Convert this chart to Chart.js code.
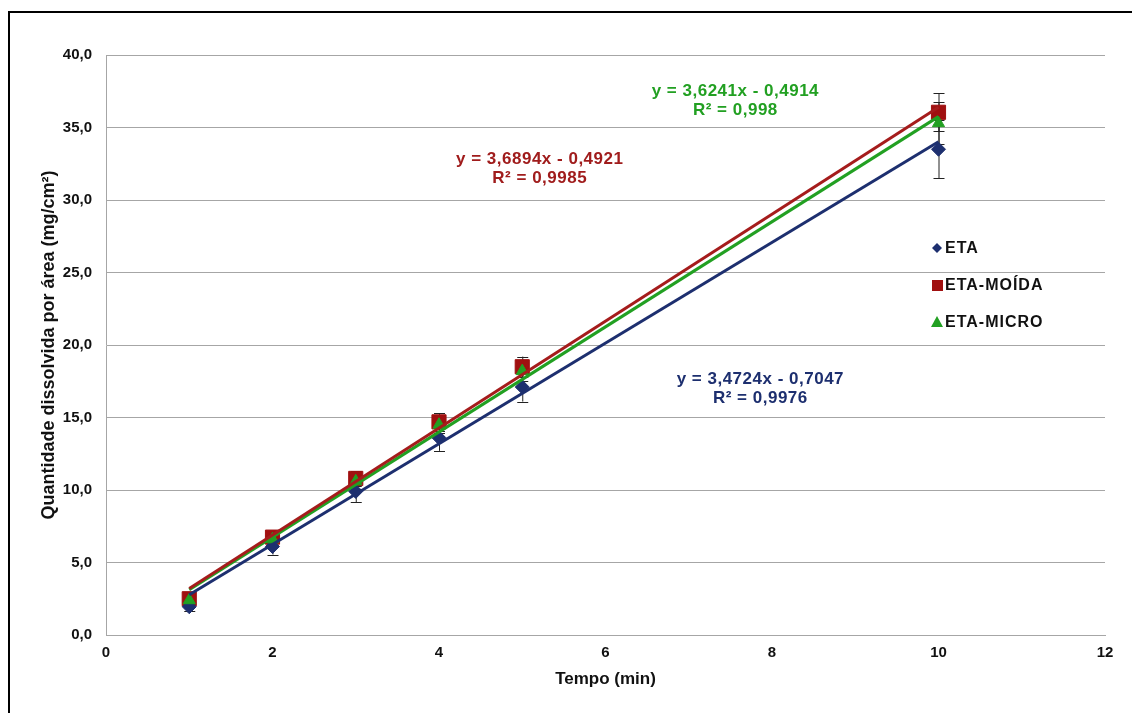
<!DOCTYPE html>
<html>
<head>
<meta charset="utf-8">
<script src="https://cdn.jsdelivr.net/npm/chart.js@4.4.0/dist/chart.umd.min.js"></script>
<style>
  body { margin: 0; background: #fff; }
  #wrap { width: 1132px; height: 713px; position: relative; }
</style>
</head>
<body>
<div id="wrap"><canvas id="grafico" width="1132" height="713"></canvas></div>
<script>
// Dados
const tempo = [1, 2, 3, 4, 5, 10];
const eta = [1.95, 6.1, 9.9, 13.6, 17.1, 33.5];
const etaErro = [0.3, 0.55, 0.75, 0.9, 1.0, 2.0];
const etaMoida = [2.5, 6.75, 10.8, 14.7, 18.5, 36.05];
const etaMoidaErro = [0.3, 0.4, 0.5, 0.6, 0.7, 1.3];
const etaMicro = [2.4, 6.6, 10.6, 14.5, 18.2, 35.3];
const etaMicroErro = [0.3, 0.4, 0.5, 0.6, 0.7, 1.45];

// Linhas de tendência (extremos em x = 1 e x = 10)
const tendX = [1, 10];
const tendEta = [2.77, 34.02];
const tendMoida = [3.2, 36.4];
const tendMicro = [3.13, 35.75];

const xTicks = [0, 2, 4, 6, 8, 10, 12];
const yTicks = ['0,0', '5,0', '10,0', '15,0', '20,0', '25,0', '30,0', '35,0', '40,0'];

const equacoes = [
  { linhas: ['y = 3,6241x - 0,4914', 'R² = 0,998'], x: 7.56, y: 37.5, cor: '#22a022' },
  { linhas: ['y = 3,6894x - 0,4921', 'R² = 0,9985'], x: 5.21, y: 32.8, cor: '#a01c1c' },
  { linhas: ['y = 3,4724x - 0,7047', 'R² = 0,9976'], x: 7.86, y: 17.6, cor: '#1d2f6f' }
];

const AZUL = '#1d2f6f';
const VERMELHO = '#a01010';
const VERDE = '#22a022';

const pts = (xs, ys) => xs.map((x, i) => ({ x: x, y: ys[i] }));

// barras de erro
const barrasErro = {
  id: 'barrasErro',
  beforeDatasetsDraw(chart) {
    const ctx = chart.ctx;
    const x = chart.scales.x, y = chart.scales.y;
    const erros = [etaErro, etaMoidaErro, etaMicroErro];
    const series = [eta, etaMoida, etaMicro];
    ctx.save();
    ctx.strokeStyle = '#222';
    ctx.lineWidth = 1;
    series.forEach((s, k) => {
      s.forEach((v, i) => {
        const px = x.getPixelForValue(tempo[i]);
        const y1 = y.getPixelForValue(v - erros[k][i]);
        const y2 = y.getPixelForValue(v + erros[k][i]);
        ctx.beginPath();
        ctx.moveTo(px + 0.5, y1);
        ctx.lineTo(px + 0.5, y2);
        ctx.moveTo(px - 5, Math.round(y1) + 0.5);
        ctx.lineTo(px + 6, Math.round(y1) + 0.5);
        ctx.moveTo(px - 5, Math.round(y2) + 0.5);
        ctx.lineTo(px + 6, Math.round(y2) + 0.5);
        ctx.stroke();
      });
    });
    ctx.restore();
  }
};

// equações, legenda e moldura
const extras = {
  id: 'extras',
  afterDraw(chart) {
    const ctx = chart.ctx;
    const x = chart.scales.x, y = chart.scales.y;
    ctx.save();
    ctx.font = 'bold 17px "Liberation Sans", Arial, sans-serif';
    ctx.letterSpacing = '0.5px';
    ctx.textAlign = 'center';
    ctx.textBaseline = 'middle';
    equacoes.forEach(eq => {
      ctx.fillStyle = eq.cor;
      const px = x.getPixelForValue(eq.x);
      const py = y.getPixelForValue(eq.y);
      eq.linhas.forEach((l, i) => ctx.fillText(l, px, py + i * 19));
    });

    // legenda
    const itens = chart.data.datasets.filter(d => !d.tendencia);
    ctx.textAlign = 'left';
    ctx.font = 'bold 16px "Liberation Sans", Arial, sans-serif';
    ctx.letterSpacing = '1px';
    itens.forEach((d, i) => {
      const ly = 248 + i * 37;
      const lx = 937;
      ctx.fillStyle = d.backgroundColor;
      ctx.beginPath();
      if (d.pointStyle === 'rectRot') {
        ctx.moveTo(lx, ly - 5); ctx.lineTo(lx + 5, ly); ctx.lineTo(lx, ly + 5); ctx.lineTo(lx - 5, ly);
      } else if (d.pointStyle === 'rect') {
        ctx.rect(lx - 5, ly - 5, 11, 11);
      } else {
        ctx.moveTo(lx, ly - 6); ctx.lineTo(lx + 6, ly + 5); ctx.lineTo(lx - 6, ly + 5);
      }
      ctx.closePath();
      ctx.fill();
      ctx.fillStyle = '#111';
      ctx.fillText(d.label, lx + 8, ly + 1);
    });
    ctx.letterSpacing = '0px';

    // moldura
    ctx.fillStyle = '#000';
    ctx.fillRect(8, 11, 1124, 2);
    ctx.fillRect(8, 11, 2, 702);
    ctx.restore();
  }
};

new Chart(document.getElementById('grafico').getContext('2d'), {
  type: 'scatter',
  data: {
    datasets: [
      { label: 'ETA', data: pts(tempo, eta), pointStyle: 'rectRot', pointRadius: 7,
        backgroundColor: AZUL, borderColor: AZUL, showLine: false, order: 2 },
      { label: 'ETA-MOÍDA', data: pts(tempo, etaMoida), pointStyle: 'rect', pointRadius: 10,
        backgroundColor: VERMELHO, borderColor: VERMELHO, showLine: false, order: 2 },
      { label: 'ETA-MICRO', data: pts(tempo, etaMicro), pointStyle: 'triangle', pointRadius: 7,
        backgroundColor: VERDE, borderColor: VERDE, showLine: false, order: 1 },
      { label: 'tend ETA', tendencia: true, data: pts(tendX, tendEta), showLine: true, pointRadius: 0,
        borderColor: AZUL, borderWidth: 3, order: 0 },
      { label: 'tend MOÍDA', tendencia: true, data: pts(tendX, tendMoida), showLine: true, pointRadius: 0,
        borderColor: '#a51c1c', borderWidth: 3, order: 0 },
      { label: 'tend MICRO', tendencia: true, data: pts(tendX, tendMicro), showLine: true, pointRadius: 0,
        borderColor: VERDE, borderWidth: 3, order: 0 }
    ]
  },
  options: {
    responsive: false,
    animation: false,
    layout: { padding: { top: 55, right: 27, left: 0, bottom: 0 } },
    plugins: {
      legend: { display: false },
      tooltip: { enabled: false }
    },
    scales: {
      x: {
        type: 'linear', min: 0, max: 12,
        afterFit: s => { s.height = 78; },
        afterBuildTicks: s => { s.ticks = xTicks.map(v => ({ value: v })); },
        grid: { display: false, drawTicks: false },
        border: { color: '#a6a6a6', width: 1 },
        ticks: { color: '#111', padding: 9, font: { family: '"Liberation Sans", Arial', size: 15, weight: 'bold' } },
        title: { display: true, text: 'Tempo (min)', color: '#111', padding: { top: 0, bottom: 23 },
          font: { family: '"Liberation Sans", Arial', size: 17, weight: 'bold' } }
      },
      y: {
        min: 0, max: 40,
        afterFit: s => { s.width = 106; },
        ticks: { stepSize: 5, color: '#111', padding: 14, callback: (v, i) => yTicks[i],
          font: { family: '"Liberation Sans", Arial', size: 15, weight: 'bold' } },
        grid: { color: '#a6a6a6', lineWidth: 1, drawTicks: false },
        border: { color: '#a6a6a6', width: 1 },
        title: { display: true, text: 'Quantidade dissolvida por área (mg/cm²)', color: '#111',
          padding: { top: 38, bottom: 0 }, font: { family: '"Liberation Sans", Arial', size: 18, weight: 'bold' } }
      }
    }
  },
  plugins: [barrasErro, extras]
});
</script>
</body>
</html>
